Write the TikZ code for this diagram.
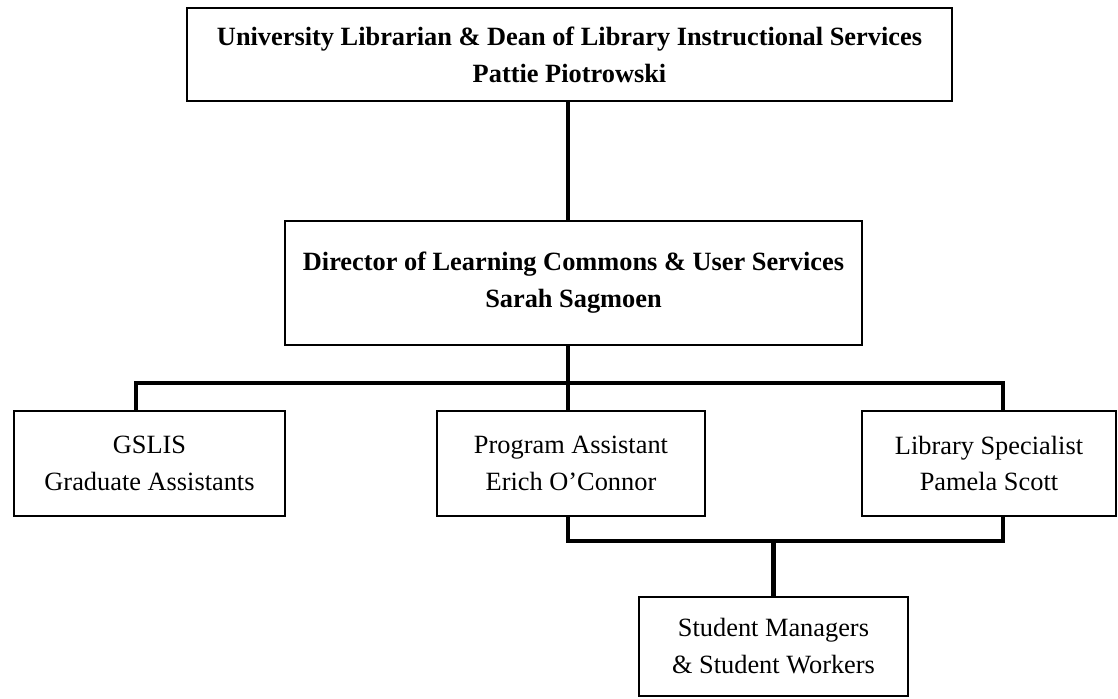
\documentclass[tikz,border=0pt]{standalone}
\usepackage{fontspec}
\setmainfont{Liberation Serif}
\usepackage{tikz}
\usetikzlibrary{positioning, calc}

\begin{document}
\begin{tikzpicture}[
    node distance=1.5cm,
    box/.style={draw, line width=1.1pt, align=center, inner sep=0pt, outer sep=0pt,
        font=\fontsize{15}{21}\selectfont, minimum height=2.1cm},
    headbox/.style={box, font=\fontsize{15}{21}\selectfont\bfseries},
    link/.style={line width=2.6pt}
]
    \useasboundingbox (0,0) rectangle (22.36,-13.98);

    \node[headbox, minimum width=15.3cm, minimum height=1.86cm] (dean) at (11.39,-1.09)
        {University Librarian \& Dean of Library Instructional Services\\Pattie Piotrowski};
    \node[headbox, minimum width=11.54cm, minimum height=2.48cm, below=2.4cm of dean, xshift=0.08cm] (director)
        {Director of Learning Commons \& User Services\\Sarah Sagmoen};
    \node[box, minimum width=5.36cm, below=1.32cm of director, xshift=-0.05cm] (progasst)
        {Program Assistant\\Erich O’Connor};
    \node[box, minimum width=5.42cm, left=3.04cm of progasst] (gslis)
        {GSLIS\\Graduate Assistants};
    \node[box, minimum width=5.08cm, right=3.14cm of progasst] (libspec)
        {Library Specialist\\Pamela Scott};
    \node[box, minimum width=5.38cm, minimum height=1.98cm, below=1.62cm of progasst, xshift=4.05cm] (students)
        {Student Managers\\\& Student Workers};

    \coordinate (busL) at (2.72,-7.66);
    \coordinate (busR) at (20.06,-7.66);
    \coordinate (lowL) at (11.36,-10.82);
    \coordinate (lowR) at (20.06,-10.82);

    \draw[link] (dean.south -| lowL) -- (director.north -| lowL);
    \draw[link] (director.south -| lowL) -- (progasst.north -| lowL);
    \draw[link] (gslis.north -| busL) -- (busL) -- (busR) -- (libspec.north -| busR);
    \draw[link] (progasst.south -| lowL) -- (lowL) -- (lowR) -- (libspec.south -| lowR);
    \draw[link] (students.north) -- (students.north |- lowL);
\end{tikzpicture}
\end{document}
